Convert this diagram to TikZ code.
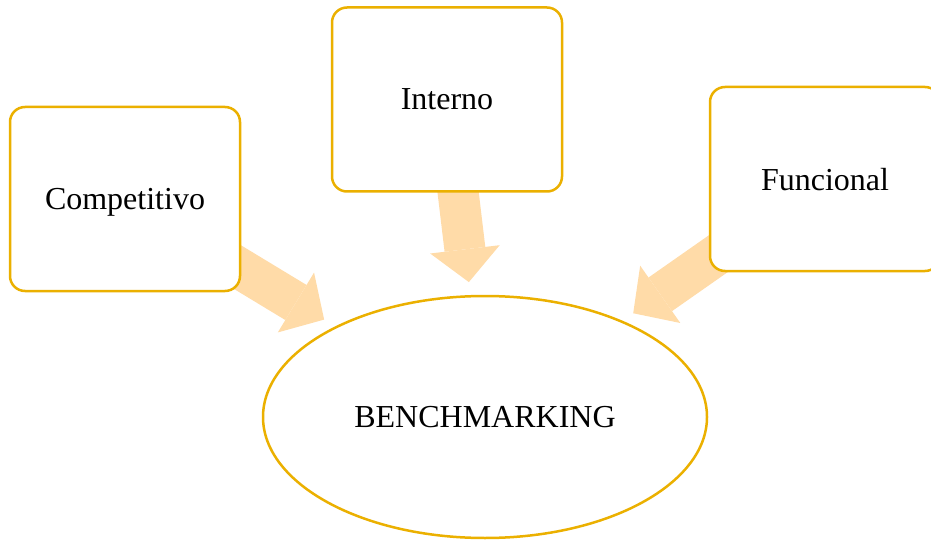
\documentclass[tikz,border=0pt]{standalone}
\usepackage{fontspec}
\setmainfont{Liberation Serif}
\usetikzlibrary{arrows.meta,shapes.geometric,backgrounds}
\definecolor{goldline}{RGB}{235,176,0}
\definecolor{peach}{RGB}{255,219,168}
\tikzset{
  kind/.style={rectangle, rounded corners=15pt, draw=goldline, line width=2.5pt, fill=white,
               minimum width=230pt, minimum height=184pt, inner sep=0pt, text depth=0pt,
               font=\fontsize{32}{36}\selectfont},
  core/.style={ellipse, draw=goldline, line width=2.5pt, fill=white,
               minimum width=444pt, minimum height=242pt, inner sep=0pt,
               font=\fontsize{32}{36}\selectfont},
  flow/.style={peach, line width=41pt, shorten >=13pt,
               -{Triangle[length=33pt, width=70pt, line width=0pt]}},
}

\begin{document}
\begin{tikzpicture}[x=1pt, y=-1pt]
\useasboundingbox (0,0) rectangle (931,540);

% Nodes
\node[kind] (comp) at (125,199) {Competitivo};
\node[kind] (intern) at (447,99.5) {Interno};
\node[kind] (func) at (825,179) {Funcional};
\node[core] (bench) at (485,417) {BENCHMARKING};

% Arrows
\begin{scope}[on background layer]
\draw[flow] (comp.center) -- (bench);
\draw[flow] (intern.center) -- (bench);
\draw[flow] (func.center) -- (bench);
\end{scope}
\end{tikzpicture}
\end{document}
